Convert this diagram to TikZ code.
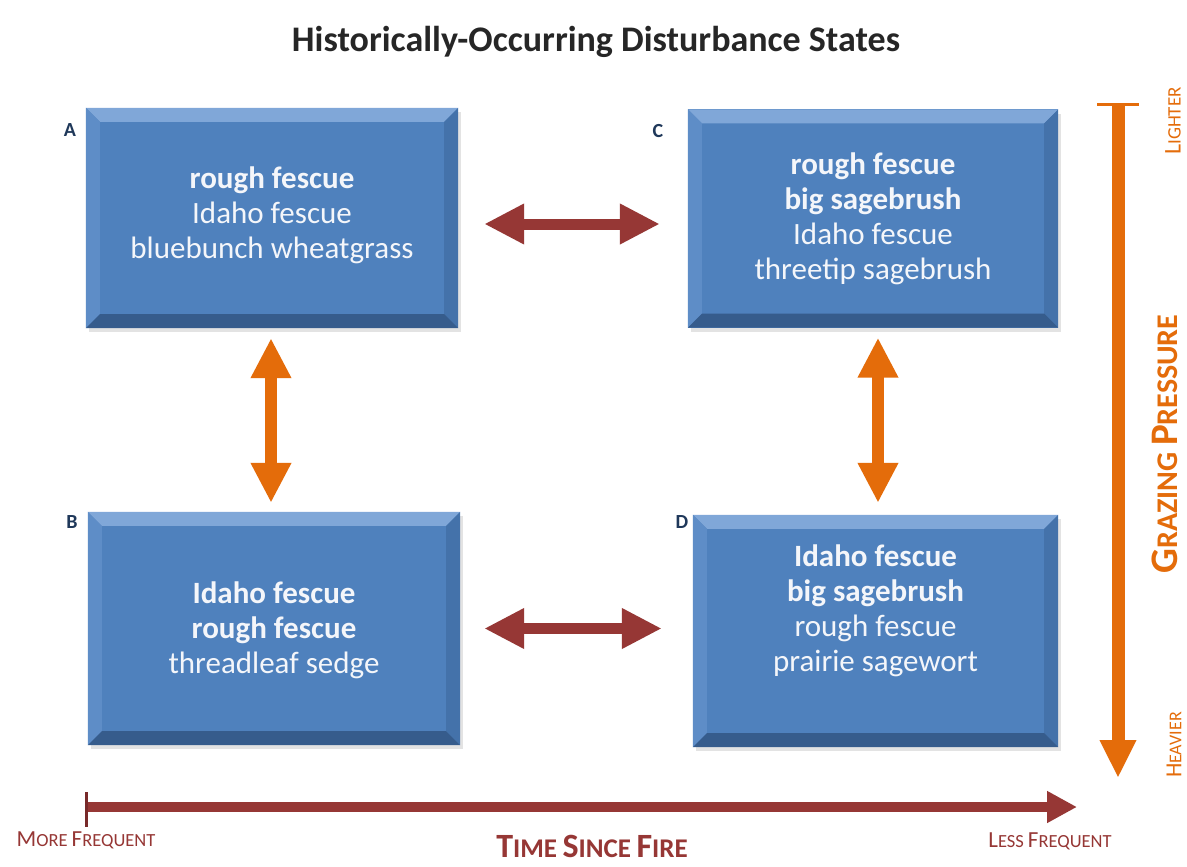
\documentclass[tikz,border=0pt]{standalone}
\usepackage{fontspec}
\setmainfont{Carlito}
\usetikzlibrary{arrows.meta,shadows}

\definecolor{boxface}{RGB}{79,129,189}
\definecolor{bevtop}{RGB}{128,167,216}
\definecolor{bevleft}{RGB}{94,141,199}
\definecolor{bevright}{RGB}{68,114,170}
\definecolor{bevbot}{RGB}{54,92,140}
\definecolor{linkred}{RGB}{150,55,53}
\definecolor{barred}{RGB}{120,42,42}
\definecolor{linkorange}{RGB}{228,108,10}
\definecolor{labelnavy}{RGB}{31,56,90}
\definecolor{titlegray}{RGB}{38,38,38}
\definecolor{boxtextwhite}{RGB}{244,246,250}

% first letter large, rest as reduced capitals
\newcommand\capsfirst[4]{{\fontsize{#1}{#1}\selectfont #3}{\fontsize{#2}{#2}\selectfont #4}}
% word space at a given size
\newcommand\capsgap[1]{{\fontsize{#1}{#1}\selectfont\ }}

\tikzset{
  statebox/.style={rectangle, inner sep=0pt, fill=boxface,
    drop shadow={shadow xshift=3pt, shadow yshift=-4pt, opacity=0.22}},
  boxtext/.style={text=boxtextwhite, align=center, inner sep=0pt,
    font=\fontsize{31}{35}\selectfont},
  statelabel/.style={text=labelnavy, font=\fontsize{20}{20}\selectfont\bfseries, inner sep=0pt},
  hlink/.style={draw=linkred, line width=11pt,
    {Triangle[length=40pt,width=38pt]}-{Triangle[length=40pt,width=38pt]}},
  vlink/.style={draw=linkorange, line width=12pt,
    {Triangle[length=40pt,width=38pt]}-{Triangle[length=40pt,width=38pt]}},
  grazeaxis/.style={draw=linkorange, line width=13pt, -{Triangle[length=38pt,width=34pt]}},
  timeaxis/.style={draw=linkred, line width=10pt, -{Triangle[length=30pt,width=30pt]}},
  redlabel/.style={text=linkred, inner sep=0pt},
  orangelabel/.style={text=linkorange, inner sep=0pt, rotate=90},
}

\begin{document}
\begin{tikzpicture}[x=1pt, y=-1pt]
\useasboundingbox[fill=white] (0,0) rectangle (1187,867);

% title
\node[text=titlegray, font=\fontsize{36}{36}\selectfont\bfseries] (title) at (596,42)
  {Historically-Occurring Disturbance States};

% state boxes
\node[statebox, minimum width=372pt, minimum height=220pt] (A) at (272,218) {};
\node[statebox, minimum width=370pt, minimum height=218pt] (C) at (873,218.5) {};
\node[statebox, minimum width=372pt, minimum height=233pt] (B) at (274,628.5) {};
\node[statebox, minimum width=365pt, minimum height=232pt] (D) at (875.5,631) {};

% bevelled rims
\foreach \n in {A,B,C,D} {
  \fill[bevtop] (\n.north west) -- (\n.north east) -- ([shift={(-14pt,-14pt)}]\n.north east)
    -- ([shift={(14pt,-14pt)}]\n.north west) -- cycle;
  \fill[bevleft] (\n.north west) -- ([shift={(14pt,-14pt)}]\n.north west)
    -- ([shift={(14pt,14pt)}]\n.south west) -- (\n.south west) -- cycle;
  \fill[bevright] (\n.north east) -- ([shift={(-14pt,-14pt)}]\n.north east)
    -- ([shift={(-14pt,14pt)}]\n.south east) -- (\n.south east) -- cycle;
  \fill[bevbot] (\n.south west) -- ([shift={(14pt,14pt)}]\n.south west)
    -- ([shift={(-14pt,14pt)}]\n.south east) -- (\n.south east) -- cycle;
}

% box contents
\node[boxtext] (Atext) at ([yshift=3pt]A.center)
  {\textbf{rough fescue}\\Idaho fescue\\bluebunch wheatgrass};
\node[boxtext] (Ctext) at (C.center)
  {\textbf{rough fescue}\\\textbf{big sagebrush}\\Idaho fescue\\threetip sagebrush};
\node[boxtext] (Btext) at ([yshift=-1.5pt]B.center)
  {\textbf{Idaho fescue}\\\textbf{rough fescue}\\threadleaf sedge};
\node[boxtext] (Dtext) at ([yshift=20pt]D.center)
  {\textbf{Idaho fescue}\\\textbf{big sagebrush}\\rough fescue\\prairie sagewort};

% state letters
\node[statelabel] (Alabel) at (70,130) {A};
\node[statelabel] (Clabel) at (658,131) {C};
\node[statelabel] (Blabel) at (72,522) {B};
\node[statelabel] (Dlabel) at (682,522) {D};

% transitions
\draw[hlink, shorten <=26pt, shorten >=28pt]
  ([yshift=-6pt]A.east) -- ([yshift=-6pt]A.east -| C.west);
\draw[hlink, shorten <=24pt, shorten >=31pt]
  (B.east) -- (B.east -| D.west);
\draw[vlink, shorten <=10pt, shorten >=9pt]
  ([xshift=-1pt]A.south) -- ([xshift=-1pt]A.south |- B.north);
\draw[vlink, shorten <=10pt, shorten >=12pt]
  ([xshift=5pt]C.south) -- ([xshift=5pt]C.south |- D.north);

% grazing pressure axis
\coordinate (gtop) at (1118,105);
\coordinate (gbot) at (1118,778);
\draw[grazeaxis] (gtop) -- (gbot);
\draw[linkorange, line width=3pt] ([xshift=-21pt]gtop) -- ([xshift=21pt]gtop);
\node[orangelabel] (lighter) at (1173,121) {\capsfirst{24}{19}{L}{IGHTER}};
\node[orangelabel] (heavier) at (1174,745) {\capsfirst{23}{18}{H}{EAVIER}};
\node[orangelabel, font=\bfseries] (grazing) at (1165,444)
  {\capsfirst{39}{30}{G}{RAZING}\capsgap{28}\capsfirst{39}{30}{P}{RESSURE}};

% time since fire axis
\coordinate (tstart) at (86,807);
\coordinate (tend) at (1077,807);
\draw[timeaxis] (tstart) -- (tend);
\draw[barred, line width=3pt] ([yshift=15pt]tstart) -- ([yshift=-20pt]tstart);
\node[redlabel] (more) at (86,840)
  {\capsfirst{23}{18.5}{M}{ORE}\capsgap{18}\capsfirst{23}{18.5}{F}{REQUENT}};
\node[redlabel] (less) at (1050,841)
  {\capsfirst{23}{18.5}{L}{ESS}\capsgap{18}\capsfirst{23}{18.5}{F}{REQUENT}};
\node[redlabel, font=\bfseries] (time) at (592,846)
  {\capsfirst{34}{27}{T}{IME}\capsgap{24}\capsfirst{34}{27}{S}{INCE}\capsgap{24}\capsfirst{34}{27}{F}{IRE}};
\end{tikzpicture}
\end{document}
